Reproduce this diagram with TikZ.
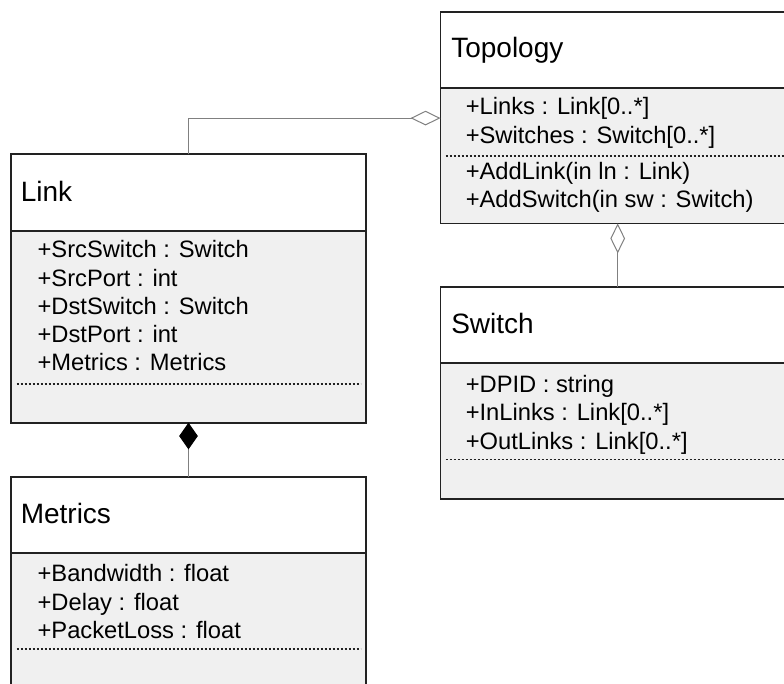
\documentclass[tikz,border=0pt]{standalone}
\usepackage{fontspec}
\setmainfont{Liberation Sans}
\usetikzlibrary{arrows.meta}
\definecolor{boxline}{HTML}{222222}
\definecolor{bodyfill}{HTML}{F0F0F0}
\definecolor{connline}{HTML}{808080}
\newcommand\titlesize{\fontsize{21}{25}\selectfont}
\newcommand\membersize{\fontsize{17.8}{21}\selectfont}
\begin{document}
\begin{tikzpicture}[x=0.75pt,y=-0.75pt,
  classhead/.style={draw=boxline, line width=1.4pt, fill=white,
    minimum width=265.8pt, minimum height=57.3pt, inner sep=0pt,
    outer sep=0pt, anchor=north west},
  classbody/.style={draw=boxline, line width=1.4pt, fill=bodyfill,
    minimum width=265.8pt, inner sep=0pt, outer sep=0pt, anchor=north west},
  classname/.style={font=\titlesize, inner sep=0pt, anchor=base west},
  member/.style={font=\membersize, inner sep=0pt, anchor=base west},
  compsep/.style={draw=boxline, line width=0.8pt, dash pattern=on 2.2pt off 0.8pt},
  aggr/.style={draw=connline, line width=0.75pt,
    -{Diamond[open, length=22.5pt, width=11pt]}},
  compo/.style={draw=connline, line width=0.75pt,
    -{Diamond[color=black, fill=black, length=20pt, width=14pt]}}]
\useasboundingbox (0,0) rectangle (784,684);
\clip (0,0) rectangle (784,684);

% Link
\node[classhead] (linkhead) at (11.3,154.3) {};
\node[classbody, minimum height=144pt] (linkbody) at (linkhead.south west) {};
\draw[compsep] (16.5,384) -- (360.5,384);
\node[classname] (linkname) at (20.5,201.7) {Link};
\node[member] (l1) at (37.3,257.7) {+SrcSwitch : Switch};
\node[member] (l2) at (37.3,286.1) {+SrcPort : int};
\node[member] (l3) at (37.3,314.4) {+DstSwitch : Switch};
\node[member] (l4) at (37.3,342.7) {+DstPort : int};
\node[member] (l5) at (37.3,370.9) {+Metrics : Metrics};

% Metrics
\node[classhead] (methead) at (11.3,477) {};
\node[classbody, minimum height=101.7pt] (metbody) at (methead.south west) {};
\draw[compsep] (16.5,649) -- (360.5,649);
\node[classname] (metname) at (20.5,523.3) {Metrics};
\node[member] (m1) at (37.3,581.7) {+Bandwidth : float};
\node[member] (m2) at (37.3,610) {+Delay : float};
\node[member] (m3) at (37.3,638.3) {+PacketLoss : float};

% Topology
\node[classhead] (topohead) at (440.5,11.7) {};
\node[classbody, minimum height=101.5pt] (topobody) at (topohead.south west) {};
\draw[compsep] (445.5,156) -- (789.5,156);
\node[classname] (toponame) at (451,57.3) {Topology};
\node[member] (t1) at (465.5,115) {+Links : Link[0..*]};
\node[member] (t2) at (465.5,143.3) {+Switches : Switch[0..*]};
\node[member] (t3) at (465.5,179.4) {+AddLink(in ln : Link)};
\node[member] (t4) at (465.5,207.4) {+AddSwitch(in sw : Switch)};

% Switch
\node[classhead] (swhead) at (440.5,287) {};
\node[classbody, minimum height=101.7pt] (swbody) at (swhead.south west) {};
\draw[compsep] (445.5,459.3) -- (789.5,459.3);
\node[classname] (swname) at (451,333.3) {Switch};
\node[member] (s1) at (465.5,392.7) {+DPID : string};
\node[member] (s2) at (465.5,420.7) {+InLinks : Link[0..*]};
\node[member] (s3) at (465.5,449) {+OutLinks : Link[0..*]};

% Associations
\coordinate (topoin) at ([yshift=-22.5pt]topobody.north west);
\draw[aggr] (linkhead.north) |- (topoin);
\draw[aggr] (swhead.north) -- (topobody.south);
\draw[compo] (methead.north) -- (linkbody.south);
\end{tikzpicture}
\end{document}
